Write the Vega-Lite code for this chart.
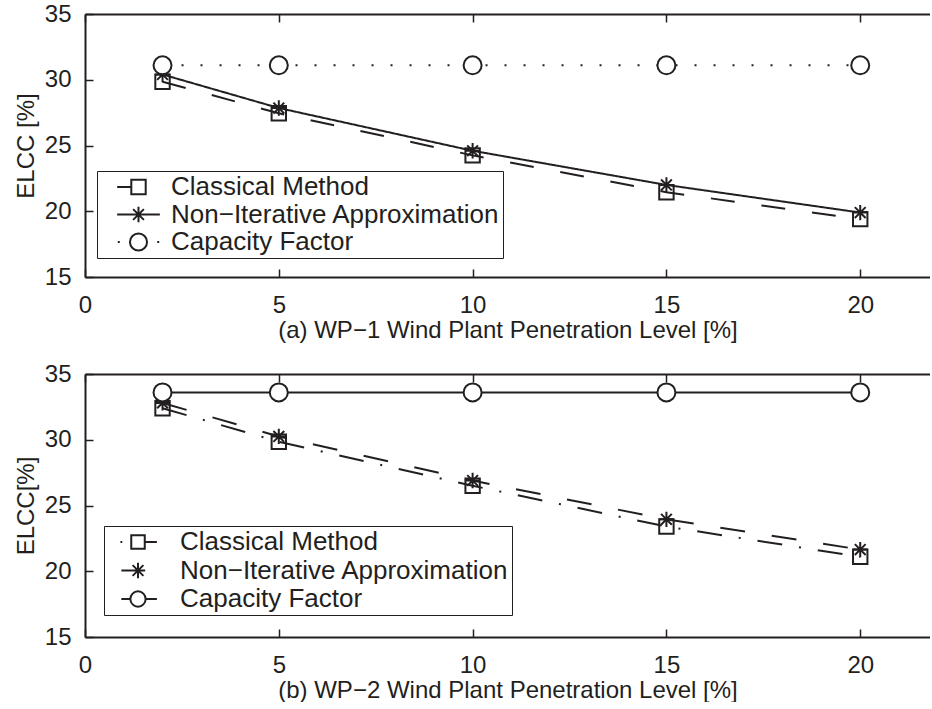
{
  "$schema": "https://vega.github.io/schema/vega-lite/v6.json",
  "padding": {"left": 14, "top": 2, "right": 0, "bottom": 0},
  "background": "white",
  "config": {
    "font": "Liberation Sans",
    "view": {"stroke": null},
    "axis": {"grid": false, "domainColor": "#231f20", "domainWidth": 2, "tickColor": "#231f20", "tickWidth": 1.5, "tickSize": -8, "labelColor": "#231f20", "titleColor": "#231f20", "labelFontSize": 24, "titleFontSize": 24, "titleFontWeight": "normal", "labelFlush": false, "labelOverlap": false},
    "legend": {"symbolSize": 324, "labelFontSize": 26, "labelColor": "#231f20", "labelFont": "Liberation Sans", "strokeColor": "#231f20", "fillColor": "white", "padding": 3, "labelLimit": 600, "symbolOpacity": 1, "symbolFillColor": "white", "symbolStrokeColor": "#231f20", "symbolStrokeWidth": 2}
  },
  "datasets": {
    "wp1": [
      {"level": 2, "series": "Classical Method", "elcc": 29.85},
      {"level": 5, "series": "Classical Method", "elcc": 27.45},
      {"level": 10, "series": "Classical Method", "elcc": 24.25},
      {"level": 15, "series": "Classical Method", "elcc": 21.45},
      {"level": 20, "series": "Classical Method", "elcc": 19.4},
      {"level": 2, "series": "Non−Iterative Approximation", "elcc": 30.4},
      {"level": 5, "series": "Non−Iterative Approximation", "elcc": 27.85},
      {"level": 10, "series": "Non−Iterative Approximation", "elcc": 24.6},
      {"level": 15, "series": "Non−Iterative Approximation", "elcc": 22.0},
      {"level": 20, "series": "Non−Iterative Approximation", "elcc": 19.9},
      {"level": 2, "series": "Capacity Factor", "elcc": 31.1},
      {"level": 5, "series": "Capacity Factor", "elcc": 31.1},
      {"level": 10, "series": "Capacity Factor", "elcc": 31.1},
      {"level": 15, "series": "Capacity Factor", "elcc": 31.1},
      {"level": 20, "series": "Capacity Factor", "elcc": 31.1}
    ],
    "wp2": [
      {"level": 2, "series": "Classical Method", "elcc": 32.4},
      {"level": 5, "series": "Classical Method", "elcc": 29.85},
      {"level": 10, "series": "Classical Method", "elcc": 26.5},
      {"level": 15, "series": "Classical Method", "elcc": 23.4},
      {"level": 20, "series": "Classical Method", "elcc": 21.1},
      {"level": 2, "series": "Non−Iterative Approximation", "elcc": 32.8},
      {"level": 5, "series": "Non−Iterative Approximation", "elcc": 30.25},
      {"level": 10, "series": "Non−Iterative Approximation", "elcc": 26.9},
      {"level": 15, "series": "Non−Iterative Approximation", "elcc": 23.95},
      {"level": 20, "series": "Non−Iterative Approximation", "elcc": 21.65},
      {"level": 2, "series": "Capacity Factor", "elcc": 33.6},
      {"level": 5, "series": "Capacity Factor", "elcc": 33.6},
      {"level": 10, "series": "Capacity Factor", "elcc": 33.6},
      {"level": 15, "series": "Capacity Factor", "elcc": 33.6},
      {"level": 20, "series": "Capacity Factor", "elcc": 33.6}
    ]
  },
  "spacing": 97,
  "bounds": "flush",
  "resolve": {"scale": {"shape": "independent", "strokeDash": "independent", "fill": "independent"}, "legend": {"shape": "independent"}},
  "vconcat": [
    {
      "width": 845,
      "height": 263,
      "data": {"name": "wp1"},
      "resolve": {"axis": {"x": "independent"}, "scale": {"shape": "independent"}, "legend": {"shape": "independent"}},
      "layer": [
        {
          "mark": {"type": "line", "strokeWidth": 2, "color": "#231f20", "strokeCap": "butt"},
          "encoding": {
            "x": {"field": "level", "type": "quantitative", "scale": {"domain": [0, 21.8], "nice": false, "zero": false},
                  "axis": {"orient": "bottom", "values": [0, 5, 10, 15, 20], "title": "(a) WP−1 Wind Plant Penetration Level [%]", "labelPadding": 24, "titlePadding": 1}},
            "y": {"field": "elcc", "type": "quantitative", "scale": {"domain": [15, 35], "nice": false, "zero": false},
                  "axis": {"values": [15, 20, 25, 30, 35], "title": "ELCC [%]", "labelPadding": 22, "titlePadding": 6}},
            "strokeDash": {"field": "series", "type": "nominal",
                  "scale": {"domain": ["Capacity Factor", "Classical Method", "Non−Iterative Approximation"], "range": [[2, 17], [24, 27], [1, 0]]},
                  "legend": null}
          }
        },
        {
          "mark": {"type": "point", "size": 324, "strokeWidth": 2, "stroke": "#231f20", "filled": true, "opacity": 1},
          "encoding": {
            "x": {"field": "level", "type": "quantitative",
                  "axis": {"orient": "top", "values": [0, 5, 10, 15, 20], "labels": false, "title": null}},
            "y": {"field": "elcc", "type": "quantitative",
                  "axis": {"values": [15, 20, 25, 30, 35], "title": "ELCC [%]", "labelPadding": 22, "titlePadding": 6}},
            "fill": {"field": "series", "type": "nominal",
                  "scale": {"domain": ["Capacity Factor", "Classical Method", "Non−Iterative Approximation"], "range": ["white", "transparent", "transparent"]},
                  "legend": null},
            "shape": {"field": "series", "type": "nominal",
                  "scale": {"domain": ["Capacity Factor", "Classical Method", "Non−Iterative Approximation"],
                            "range": ["circle", "M-0.8,-0.8H0.8V0.8H-0.8Z", "M0,-0.85V0.85M-0.8,0H0.8M-0.6,-0.6L0.6,0.6M-0.6,0.6L0.6,-0.6"]},
                  "legend": null}
          }
        },
        {
          "mark": {"type": "point", "size": 324, "strokeWidth": 2, "stroke": "#231f20", "filled": false, "opacity": 0},
          "encoding": {
            "x": {"field": "level", "type": "quantitative", "axis": null},
            "y": {"field": "elcc", "type": "quantitative",
                  "axis": {"values": [15, 20, 25, 30, 35], "title": "ELCC [%]", "labelPadding": 22, "titlePadding": 6}},
            "shape": {"field": "series", "type": "nominal",
                  "scale": {"domain": ["Classical Method", "Non−Iterative Approximation", "Capacity Factor"],
                            "range": ["M-2.37,0H-0.8M-0.8,-0.8H0.8V0.8H-0.8Z",
                                      "M-2.37,0H2.37M0,-0.85V0.85M-0.6,-0.6L0.6,0.6M-0.6,0.6L0.6,-0.6",
                                      "M-2.3,0H-2.08M2.08,0H2.3M0.95,0A0.95,0.95,0,1,1,-0.95,0A0.95,0.95,0,1,1,0.95,0Z"]},
                  "legend": {
                    "orient": "none", "legendX": 12, "legendY": 157, "title": null,
                    "rowPadding": 1.5, "symbolOffset": 25.5, "labelOffset": 19.5
                  }}
          }
        }
      ]
    },
    {
      "width": 845,
      "height": 263,
      "data": {"name": "wp2"},
      "resolve": {"axis": {"x": "independent"}, "scale": {"shape": "independent"}, "legend": {"shape": "independent"}},
      "layer": [
        {
          "mark": {"type": "line", "strokeWidth": 2, "color": "#231f20", "strokeCap": "butt"},
          "encoding": {
            "x": {"field": "level", "type": "quantitative", "scale": {"domain": [0, 21.8], "nice": false, "zero": false},
                  "axis": {"orient": "bottom", "values": [0, 5, 10, 15, 20], "title": "(b) WP−2 Wind Plant Penetration Level [%]", "labelPadding": 24, "titlePadding": 1}},
            "y": {"field": "elcc", "type": "quantitative", "scale": {"domain": [15, 35], "nice": false, "zero": false},
                  "axis": {"values": [15, 20, 25, 30, 35], "title": "ELCC[%]", "labelPadding": 22, "titlePadding": 6}},
            "strokeDash": {"field": "series", "type": "nominal",
                  "scale": {"domain": ["Capacity Factor", "Classical Method", "Non−Iterative Approximation"], "range": [[1, 0], [25, 17, 2, 17], [25, 27]]},
                  "legend": null}
          }
        },
        {
          "mark": {"type": "point", "size": 324, "strokeWidth": 2, "stroke": "#231f20", "filled": true, "opacity": 1},
          "encoding": {
            "x": {"field": "level", "type": "quantitative",
                  "axis": {"orient": "top", "values": [0, 5, 10, 15, 20], "labels": false, "title": null}},
            "y": {"field": "elcc", "type": "quantitative",
                  "axis": {"values": [15, 20, 25, 30, 35], "title": "ELCC[%]", "labelPadding": 22, "titlePadding": 6}},
            "fill": {"field": "series", "type": "nominal",
                  "scale": {"domain": ["Capacity Factor", "Classical Method", "Non−Iterative Approximation"], "range": ["white", "transparent", "transparent"]},
                  "legend": null},
            "shape": {"field": "series", "type": "nominal",
                  "scale": {"domain": ["Capacity Factor", "Classical Method", "Non−Iterative Approximation"],
                            "range": ["circle", "M-0.8,-0.8H0.8V0.8H-0.8Z", "M0,-0.85V0.85M-0.8,0H0.8M-0.6,-0.6L0.6,0.6M-0.6,0.6L0.6,-0.6"]},
                  "legend": null}
          }
        },
        {
          "mark": {"type": "point", "size": 324, "strokeWidth": 2, "stroke": "#231f20", "filled": false, "opacity": 0},
          "encoding": {
            "x": {"field": "level", "type": "quantitative", "axis": null},
            "y": {"field": "elcc", "type": "quantitative",
                  "axis": {"values": [15, 20, 25, 30, 35], "title": "ELCC[%]", "labelPadding": 22, "titlePadding": 6}},
            "shape": {"field": "series", "type": "nominal",
                  "scale": {"domain": ["Classical Method", "Non−Iterative Approximation", "Capacity Factor"],
                            "range": ["M-1.95,0H-1.75M-0.75,-0.75H0.75V0.75H-0.75ZM0.75,0H2.1",
                                      "M-1.85,0H0M0,-0.85V0.85M-0.8,0H0.8M-0.6,-0.6L0.6,0.6M-0.6,0.6L0.6,-0.6",
                                      "M-1.85,0H-0.85M0.85,0H2.1M0.85,0A0.85,0.85,0,1,1,-0.85,0A0.85,0.85,0,1,1,0.85,0Z"]},
                  "legend": {
                    "orient": "none", "legendX": 19, "legendY": 152, "title": null,
                    "rowPadding": 2.5, "symbolOffset": 18, "labelOffset": 29
                  }}
          }
        }
      ]
    }
  ]
}
